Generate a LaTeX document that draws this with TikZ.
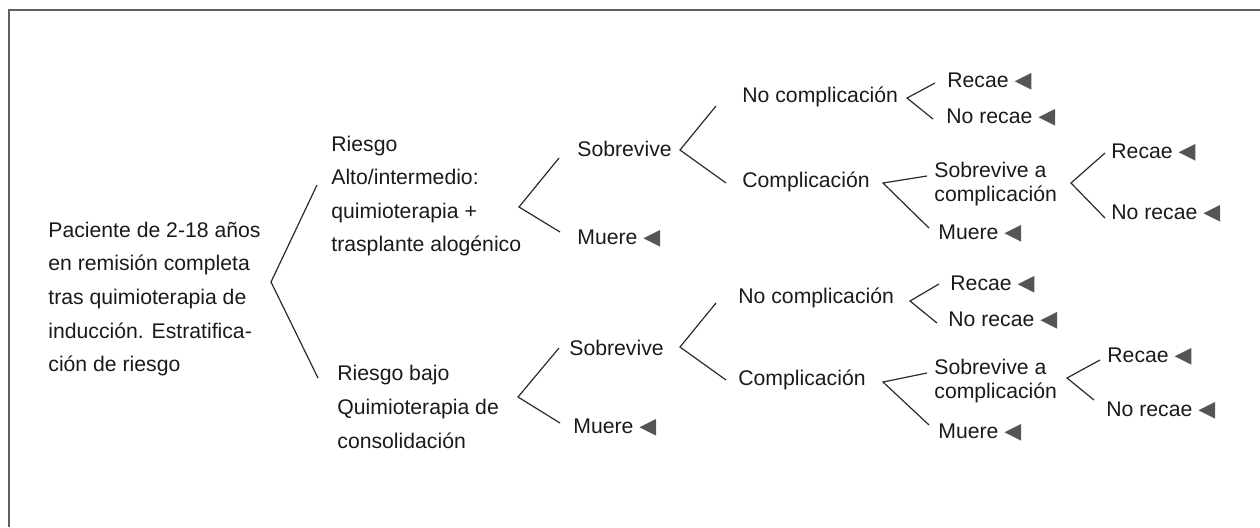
\documentclass[tikz,border=0pt]{standalone}
\usepackage{fontspec}
\setmainfont{Liberation Sans}
\newfontfamily\symfont{DejaVu Sans}
\definecolor{txtcol}{HTML}{1A1A1A}
\definecolor{linecol}{HTML}{2A2A2A}
\definecolor{tricol}{HTML}{555555}
\definecolor{framecol}{HTML}{5F5F5F}
\newcommand{\termtri}{{\symfont\fontsize{11}{11}\selectfont\textcolor{tricol}{◀}}}
\tikzset{
  lbl/.style={anchor=west, inner sep=0pt, align=left, text=txtcol},
  tight/.style={font=\fontsize{10.6}{12.2}\selectfont},
  branch/.style={draw=linecol, line width=0.6pt}
}
\begin{document}
\begin{tikzpicture}[x=0.5pt, y=-0.5pt, font=\fontsize{10.6}{16.8}\selectfont]
          \useasboundingbox (0,0) rectangle (1260,527);
          \draw [framecol, line width=1pt] (9,527) -- (9,10) -- (1260,10);

          % nodes
          \node [lbl] (root) at (48,299) {Paciente de 2-18 años\\en remisión completa\\tras quimioterapia de\\inducción. Estratifica-\\ción de riesgo};
          \node [lbl] (alto) at (331,196) {Riesgo\\Alto/intermedio:\\quimioterapia +\\trasplante alogénico};
          \node [lbl] (bajo) at (337,407) {Riesgo bajo\\Quimioterapia de\\consolidación};

          \node [lbl] (sobA) at (577,149) {Sobrevive};
          \node [lbl] (mueA) at (577,239) {Muere \termtri};
          \node [lbl] (sobB) at (569,348) {Sobrevive};
          \node [lbl] (mueB) at (573,428) {Muere \termtri};

          \node [lbl] (ncA) at (742,97) {No complicación};
          \node [lbl] (coA) at (742,182) {Complicación};
          \node [lbl] (ncB) at (738,298) {No complicación};
          \node [lbl] (coB) at (738,380) {Complicación};

          \node [lbl] (reA) at (947,82) {Recae \termtri};
          \node [lbl] (nrA) at (946,118) {No recae \termtri};
          \node [lbl, tight] (scA) at (934,184) {Sobrevive a\\complicación};
          \node [lbl] (mcA) at (938,234) {Muere \termtri};
          \node [lbl] (rsA) at (1111,153) {Recae \termtri};
          \node [lbl] (nsA) at (1111,214) {No recae \termtri};

          \node [lbl] (reB) at (950,285) {Recae \termtri};
          \node [lbl] (nrB) at (948,321) {No recae \termtri};
          \node [lbl, tight] (scB) at (934,381) {Sobrevive a\\complicación};
          \node [lbl] (mcB) at (938,433) {Muere \termtri};
          \node [lbl] (rsB) at (1107,357) {Recae \termtri};
          \node [lbl] (nsB) at (1106,411) {No recae \termtri};

          % branch points
          \coordinate (v0) at (271,282); \coordinate (a0) at (317,185); \coordinate (b0) at (318,378);
          \coordinate (v1) at (519,207); \coordinate (a1) at (559,158); \coordinate (b1) at (560,232);
          \coordinate (v2) at (518,397); \coordinate (a2) at (559,348); \coordinate (b2) at (560,423);
          \coordinate (v3) at (680,150); \coordinate (a3) at (716,106); \coordinate (b3) at (726,183);
          \coordinate (v4) at (680,347); \coordinate (a4) at (716,303); \coordinate (b4) at (726,380);
          \coordinate (v5) at (907,98);  \coordinate (a5) at (935,83);  \coordinate (b5) at (933,119);
          \coordinate (v6) at (883,183); \coordinate (a6) at (927,176); \coordinate (b6) at (929,228);
          \coordinate (v7) at (1071,183); \coordinate (a7) at (1105,153); \coordinate (b7) at (1105,218);
          \coordinate (v8) at (910,301); \coordinate (a8) at (939,284); \coordinate (b8) at (937,323);
          \coordinate (v9) at (883,382); \coordinate (a9) at (927,373); \coordinate (b9) at (929,425);
          \coordinate (v10) at (1067,378); \coordinate (a10) at (1100,360); \coordinate (b10) at (1094,400);

          \foreach \i in {0,...,10}
            \draw [branch] (a\i) -- (v\i) -- (b\i);
        \end{tikzpicture}
\end{document}
